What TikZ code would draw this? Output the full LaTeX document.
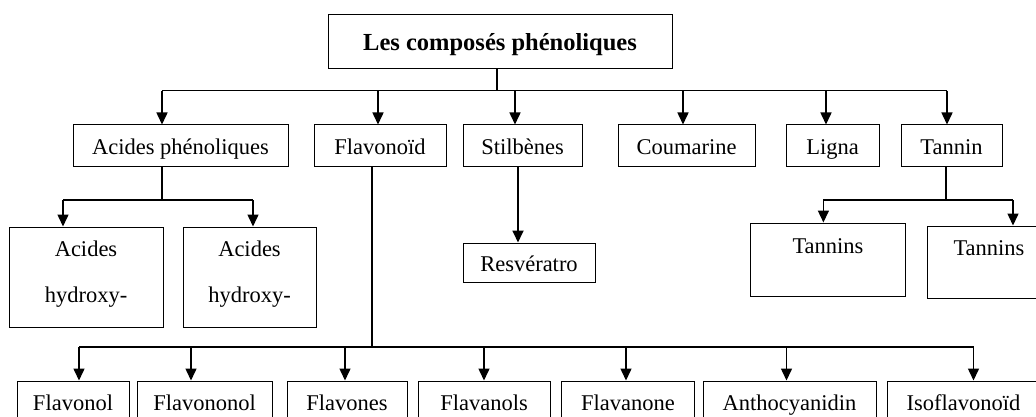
\documentclass[tikz,border=0pt]{standalone}
\usepackage{fontspec}
\setmainfont{Liberation Serif}
\usetikzlibrary{arrows.meta}
\tikzset{
  box/.style={draw, line width=1pt, inner sep=0pt, font={\fontsize{22.5pt}{27pt}\selectfont}, minimum height=41pt, text height=17pt, text depth=0pt},
  twoline/.style={draw, line width=1pt, inner sep=0pt, align=center, font={\fontsize{22.5pt}{46pt}\selectfont}, text depth=10pt},
  titlebox/.style={draw, line width=1pt, inner sep=0pt, font={\fontsize{24.5pt}{29pt}\selectfont\bfseries}, minimum width=344pt, minimum height=54pt, text height=18pt, text depth=0pt},
  ln/.style={line width=1.2pt},
  arr/.style={line width=1.5pt, -{Triangle[width=11pt,length=12pt]}},
}
\begin{document}
\begin{tikzpicture}[x=1pt, y=-1pt]
\useasboundingbox (0,0) rectangle (1036,417);
\clip (0,0) rectangle (1036,417);
% title
\node[titlebox] (top) at (500,42) {Les composés phénoliques};
% level 1
\node[box, minimum width=215pt] (acp) at (180.5,145.5) {Acides phénoliques};
\node[box, minimum width=132pt] (flav) at (380,145.5) {Flavonoïd};
\node[box, minimum width=119pt] (stil) at (522.5,145.5) {Stilbènes};
\node[box, minimum width=137pt] (coum) at (686.5,145.5) {Coumarine};
\node[box, minimum width=93pt] (lig) at (832.5,145.5) {Ligna};
\node[box, minimum width=101pt] (tan) at (951.5,145.5) {Tannin};
% level 2
\node[twoline, minimum width=154pt, minimum height=100pt] (hyd1) at (86,277) {Acides\\hydroxy-};
\node[twoline, minimum width=133pt, minimum height=100pt] (hyd2) at (249.5,277) {Acides\\hydroxy-};
\node[box, minimum width=132pt, minimum height=39pt] (res) at (529,262.5) {Resvératro};
\node[box, minimum width=155pt, minimum height=73pt] (tn1) at (828,259.5) {\raisebox{15pt}{Tannins}};
\node[box, minimum width=124pt, minimum height=72pt] (tn2) at (989,262) {\raisebox{15pt}{Tannins}};
% level 3
\node[box, minimum width=112pt] (f1) at (73,401.5) {Flavonol};
\node[box, minimum width=135pt] (f2) at (204.5,401.5) {Flavononol};
\node[box, minimum width=120pt] (f3) at (347,401.5) {Flavones};
\node[box, minimum width=132pt] (f4) at (484,401.5) {Flavanols};
\node[box, minimum width=132.5pt] (f5) at (628,401.5) {Flavanone};
\node[box, minimum width=173pt] (f6) at (789.5,401.5) {Anthocyanidin};
\node[box, minimum width=153pt] (f7) at (963.5,401.5) {Isoflavonoïd};
% top connectors
\coordinate (t0) at (497,90.7);
\draw[ln] (top.south -| t0) -- (t0);
\draw[ln] (162,90.7) coordinate (bL) -- (947,90.7) coordinate (bR);
\foreach \x/\n in {162/acp, 378/flav, 515/stil, 683/coum, 826/lig, 947/tan}{
  \coordinate (tmp) at (\x,90.7);
  \draw[arr] (tmp) -- (tmp |- \n.north);
}
% acides phenoliques
\coordinate (ac) at (162,200);
\draw[ln] (ac |- acp.south) -- (ac);
\draw[ln] (63,200) coordinate (acL) -- (253,200) coordinate (acR);
\draw[arr] (acL) -- (acL |- hyd1.north);
\draw[arr] (acR) -- (acR |- hyd2.north);
% stilbenes
\coordinate (sc) at (518,200);
\draw[arr, line width=1.8pt] (sc |- stil.south) -- (sc |- res.north);
% tannin
\coordinate (tc) at (946,200);
\draw[ln] (tc |- tan.south) -- (tc);
\draw[ln] (823.4,200) coordinate (tnL) -- (1013,200) coordinate (tnR);
\draw[arr] (tnL) -- (tnL |- tn1.north);
\draw[arr] (tnR) -- (tnR |- tn2.north);
% flavonoid
\coordinate (fc) at (372,347);
\draw[ln] (fc |- flav.south) -- (fc);
\draw[ln] (79,347) -- (973.5,347);
\foreach \x/\n in {79/f1, 191/f2, 345/f3, 484/f4, 626/f5, 786.5/f6, 973.5/f7}{
  \coordinate (tmp) at (\x,347);
  \draw[arr] (tmp) -- (tmp |- \n.north);
}
\end{tikzpicture}
\end{document}
